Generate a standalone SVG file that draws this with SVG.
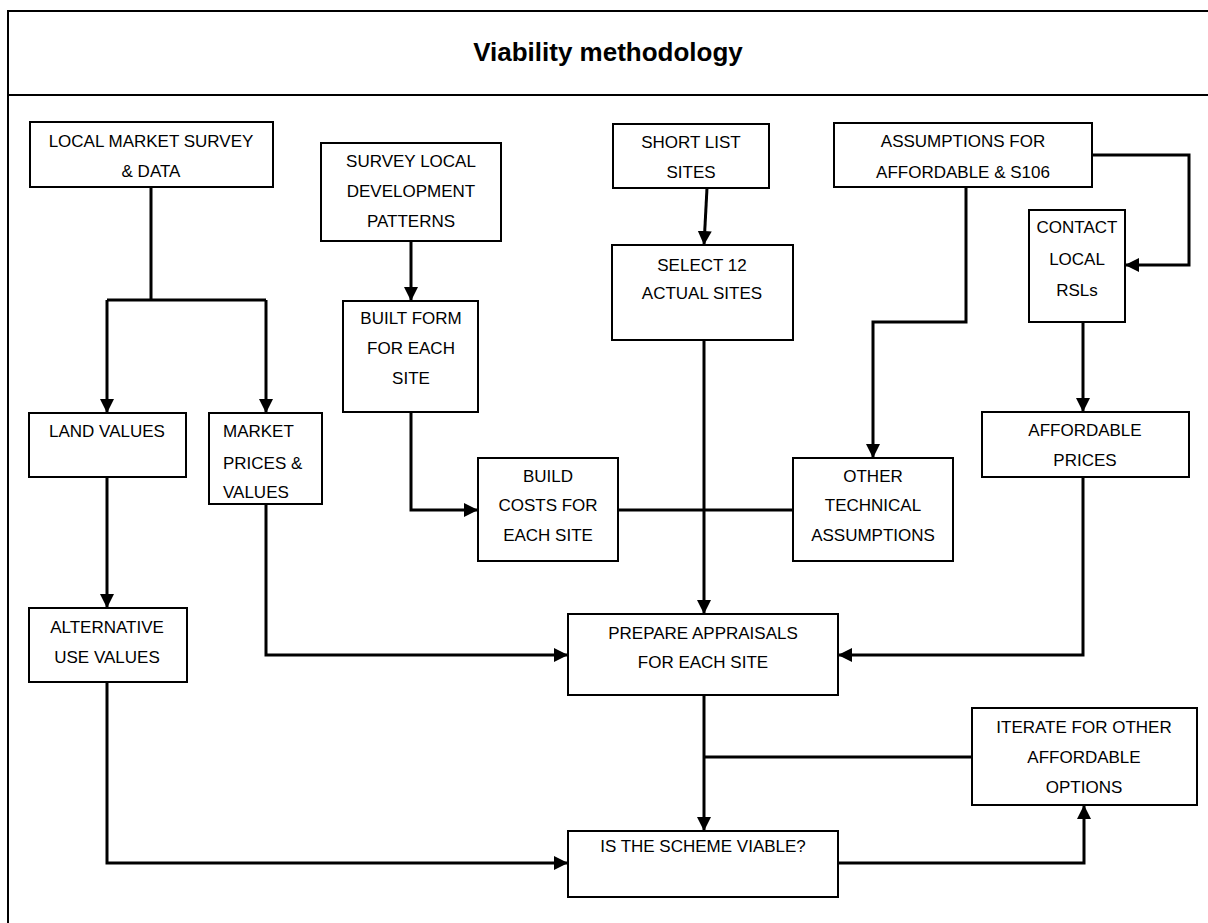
<svg xmlns="http://www.w3.org/2000/svg" width="1208" height="923" viewBox="0 0 1208 923">
<style>
.frame{fill:none;stroke:#000;stroke-width:2}
.box{fill:#fff;stroke:#000;stroke-width:2}
.t{font-family:"Liberation Sans",Arial,sans-serif;font-size:17px;fill:#000;text-anchor:middle}
.tl{text-anchor:start}
.title{font-family:"Liberation Sans",Arial,sans-serif;font-size:26px;font-weight:bold;fill:#000;text-anchor:middle}
.c{fill:none;stroke:#000;stroke-width:3}
</style>
<defs>
<marker id="arr" markerUnits="userSpaceOnUse" markerWidth="16" markerHeight="16" refX="14" refY="8" orient="auto">
<path d="M0,1 L14,8 L0,15 z" fill="#000"/>
</marker>
</defs>
<rect width="1208" height="923" fill="#fff"/>
<g id="frame">
<path class="frame" d="M8,923 V11 H1210 M8,95 H1210"/>
<text class="title" x="608" y="61">Viability methodology</text>
</g>
<g id="connectors">
<path class="c" d="M151,187 V300 M107,300 H266"/>
<path class="c" d="M107,300 V413" marker-end="url(#arr)"/>
<path class="c" d="M266,300 V413" marker-end="url(#arr)"/>
<path class="c" d="M411,241 V301" marker-end="url(#arr)"/>
<path class="c" d="M411,412 V510 H478" marker-end="url(#arr)"/>
<path class="c" d="M707,188 L704,245" marker-end="url(#arr)"/>
<path class="c" d="M704,340 V614" marker-end="url(#arr)"/>
<path class="c" d="M618,510 H793"/>
<path class="c" d="M966,187 V322 H873 V458" marker-end="url(#arr)"/>
<path class="c" d="M1092,155 H1189 V265 H1125" marker-end="url(#arr)"/>
<path class="c" d="M1083,322 V412" marker-end="url(#arr)"/>
<path class="c" d="M1083,477 V655 H838" marker-end="url(#arr)"/>
<path class="c" d="M266,504 V655 H568" marker-end="url(#arr)"/>
<path class="c" d="M107,477 V608" marker-end="url(#arr)"/>
<path class="c" d="M107,682 V863 H568" marker-end="url(#arr)"/>
<path class="c" d="M704,695 V831" marker-end="url(#arr)"/>
<path class="c" d="M972,757 H704"/>
<path class="c" d="M838,863 H1084 V805" marker-end="url(#arr)"/>
</g>
<g id="n-lms"><rect class="box" x="30" y="122" width="243" height="65"/>
<text class="t" x="151" y="147">LOCAL MARKET SURVEY</text><text class="t" x="151" y="177">&amp; DATA</text></g>
<g id="n-sldp"><rect class="box" x="321" y="143" width="180" height="98"/>
<text class="t" x="411" y="167">SURVEY LOCAL</text><text class="t" x="411" y="197">DEVELOPMENT</text><text class="t" x="411" y="227">PATTERNS</text></g>
<g id="n-sls"><rect class="box" x="613" y="124" width="156" height="64"/>
<text class="t" x="691" y="148">SHORT LIST</text><text class="t" x="691" y="178">SITES</text></g>
<g id="n-afa"><rect class="box" x="834" y="123" width="258" height="64"/>
<text class="t" x="963" y="147">ASSUMPTIONS FOR</text><text class="t" x="963" y="178">AFFORDABLE &amp; S106</text></g>
<g id="n-clr"><rect class="box" x="1029" y="210" width="96" height="112"/>
<text class="t" x="1077" y="233">CONTACT</text><text class="t" x="1077" y="265">LOCAL</text><text class="t" x="1077" y="296">RSLs</text></g>
<g id="n-s12"><rect class="box" x="612" y="245" width="181" height="95"/>
<text class="t" x="702" y="271">SELECT 12</text><text class="t" x="702" y="299">ACTUAL SITES</text></g>
<g id="n-bf"><rect class="box" x="343" y="301" width="135" height="111"/>
<text class="t" x="411" y="324">BUILT FORM</text><text class="t" x="411" y="354">FOR EACH</text><text class="t" x="411" y="384">SITE</text></g>
<g id="n-lv"><rect class="box" x="29" y="413" width="157" height="64"/>
<text class="t" x="107" y="437">LAND VALUES</text></g>
<g id="n-mpv"><rect class="box" x="209" y="413" width="113" height="91"/>
<text class="t tl" x="223" y="437">MARKET</text><text class="t tl" x="223" y="469">PRICES &amp;</text><text class="t tl" x="223" y="498">VALUES</text></g>
<g id="n-bc"><rect class="box" x="478" y="458" width="140" height="103"/>
<text class="t" x="548" y="482">BUILD</text><text class="t" x="548" y="511">COSTS FOR</text><text class="t" x="548" y="541">EACH SITE</text></g>
<g id="n-ota"><rect class="box" x="793" y="458" width="160" height="103"/>
<text class="t" x="873" y="482">OTHER</text><text class="t" x="873" y="511">TECHNICAL</text><text class="t" x="873" y="541">ASSUMPTIONS</text></g>
<g id="n-ap"><rect class="box" x="982" y="412" width="207" height="65"/>
<text class="t" x="1085" y="436">AFFORDABLE</text><text class="t" x="1085" y="466">PRICES</text></g>
<g id="n-auv"><rect class="box" x="29" y="608" width="158" height="74"/>
<text class="t" x="107" y="633">ALTERNATIVE</text><text class="t" x="107" y="663">USE VALUES</text></g>
<g id="n-pa"><rect class="box" x="568" y="614" width="270" height="81"/>
<text class="t" x="703" y="639">PREPARE APPRAISALS</text><text class="t" x="703" y="668">FOR EACH SITE</text></g>
<g id="n-it"><rect class="box" x="972" y="708" width="225" height="97"/>
<text class="t" x="1084" y="733">ITERATE FOR OTHER</text><text class="t" x="1084" y="763">AFFORDABLE</text><text class="t" x="1084" y="793">OPTIONS</text></g>
<g id="n-isv"><rect class="box" x="568" y="831" width="270" height="66"/>
<text class="t" x="703" y="852">IS THE SCHEME VIABLE?</text></g>
</svg>
